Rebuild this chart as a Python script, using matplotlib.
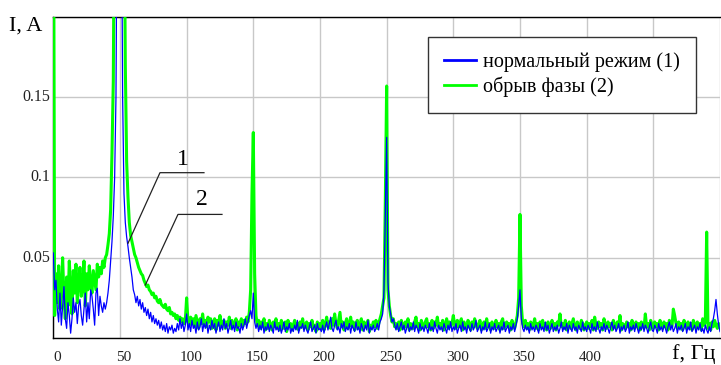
import numpy as np
import matplotlib
matplotlib.use("Agg")
import matplotlib.pyplot as plt
from matplotlib.transforms import ScaledTranslation

# ---------------- data (current amplitude, mA, 1 Hz step from 0 Hz) ----------------
blue_mA = [
    53, 30, 36, 18, 10, 28, 8, 20, 32, 12,
    6, 22, 14, 3, 12, 25, 16, 22, 9, 20,
    24, 14, 8, 18, 28, 10, 22, 12, 30, 26,
    18, 8, 28, 31, 14, 26, 20, 16, 22, 18,
    22, 28, 36, 48, 60, 76, 100, 150, 300, 300,
    300, 300, 150, 90, 72, 63, 57, 50, 44, 38,
    30, 27, 22, 26, 20, 24, 18, 22, 16, 19,
    14, 18, 12, 16, 10, 14, 9, 12, 8, 11,
    6, 10, 5, 8, 4, 9, 3, 7, 5, 8,
    3, 6, 4, 9, 5, 12, 6, 10, 4, 8,
    15, 5, 9, 4, 11, 6, 8, 3, 10, 5,
    7, 12, 4, 9, 6, 10, 3, 8, 5, 11,
    6, 9, 3, 7, 10, 4, 8, 5, 12, 6,
    9, 3, 7, 11, 5, 8, 4, 10, 6, 7,
    3, 9, 5, 8, 12, 6, 10, 14, 17, 12,
    28, 10, 6, 9, 4, 8, 5, 10, 3, 7,
    5, 9, 4, 8, 6, 3, 10, 5, 7, 4,
    8, 3, 6, 10, 4, 7, 5, 9, 3, 6,
    4, 8, 5, 11, 3, 7, 6, 9, 4, 8,
    5, 3, 7, 10, 4, 6, 8, 3, 9, 5,
    6, 4, 8, 3, 7, 10, 5, 9, 13, 6,
    4, 8, 11, 5, 7, 3, 9, 6, 10, 4,
    7, 5, 9, 3, 8, 6, 4, 10, 5, 7,
    3, 9, 6, 4, 8, 5, 11, 3, 7, 5,
    8, 4, 6, 9, 5, 10, 12, 15, 30, 76,
    125, 35, 20, 15, 10, 12, 8, 5, 9, 4,
    7, 10, 5, 8, 3, 6, 9, 4, 7, 5,
    10, 4, 8, 6, 3, 9, 5, 7, 4, 8,
    6, 3, 9, 5, 7, 4, 10, 6, 3, 8,
    5, 7, 4, 9, 6, 3, 8, 5, 10, 4,
    7, 5, 9, 3, 6, 8, 4, 10, 5, 7,
    3, 8, 6, 4, 9, 5, 7, 11, 4, 6,
    8, 3, 7, 5, 10, 4, 6, 9, 3, 7,
    5, 9, 4, 6, 8, 3, 7, 5, 10, 4,
    6, 8, 3, 7, 5, 9, 4, 8, 12, 20,
    30, 12, 6, 4, 8, 5, 7, 3, 9, 5,
    7, 4, 8, 6, 3, 9, 5, 7, 4, 10,
    5, 8, 3, 6, 9, 4, 7, 5, 8, 3,
    6, 10, 4, 7, 5, 9, 3, 8, 6, 4,
    9, 5, 7, 3, 8, 6, 4, 10, 5, 7,
    4, 8, 6, 3, 9, 5, 7, 4, 10, 6,
    3, 7, 5, 9, 4, 8, 6, 3, 7, 10,
    5, 8, 4, 6, 9, 3, 7, 5, 8, 4,
    6, 10, 3, 7, 5, 8, 4, 9, 6, 3,
    7, 5, 9, 4, 8, 6, 3, 7, 10, 5,
    4, 8, 6, 3, 9, 5, 7, 4, 8, 6,
    3, 7, 10, 5, 8, 4, 6, 9, 3, 7,
    5, 8, 4, 6, 9, 3, 7, 5, 10, 4,
    6, 8, 3, 7, 5, 9, 4, 6, 3, 8,
    5, 3, 7, 4, 9, 12, 17, 24, 15, 8,
    4,
]

green_mA = [
    350, 14, 40, 22, 45, 18, 30, 50, 25, 12,
    38, 20, 48, 30, 15, 42, 28, 46, 22, 35,
    44, 26, 32, 48, 20, 40, 30, 45, 34, 28,
    42, 36, 30, 46, 38, 44, 40, 48, 44, 50,
    52, 58, 65, 80, 115, 160, 300, 300, 300, 300,
    300, 300, 300, 300, 170, 110, 88, 72, 64, 60,
    56, 52, 50, 47, 44, 42, 40, 39, 36, 34,
    32, 33, 30, 29, 27, 28, 25, 26, 23, 22,
    24, 21, 20, 19, 21, 18, 17, 19, 15, 16,
    14, 15, 12, 14, 11, 13, 10, 12, 9, 11,
    25, 10, 8, 13, 9, 12, 7, 14, 10, 6,
    12, 9, 15, 8, 11, 7, 13, 10, 12, 6,
    9, 12, 5, 11, 8, 14, 7, 10, 11, 6,
    10, 8, 13, 6, 11, 9, 7, 12, 5, 10,
    8, 12, 7, 11, 9, 13, 10, 16, 30, 90,
    128, 40, 14, 8, 11, 6, 10, 7, 12, 5,
    9, 6, 11, 8, 5, 10, 7, 12, 6, 9,
    5, 11, 8, 6, 10, 4, 11, 7, 9, 5,
    8, 11, 6, 9, 5, 10, 7, 12, 6, 8,
    10, 5, 9, 7, 11, 6, 8, 4, 10, 7,
    9, 6, 11, 5, 8, 13, 7, 10, 6, 12,
    8, 15, 9, 6, 11, 16, 7, 10, 5, 9,
    12, 6, 8, 13, 7, 10, 5, 9, 11, 6,
    8, 12, 5, 10, 7, 9, 11, 4, 8, 6,
    10, 7, 11, 6, 9, 12, 15, 20, 25, 85,
    157, 30, 20, 14, 10, 12, 7, 9, 6, 10,
    5, 11, 8, 6, 10, 7, 12, 5, 9, 8,
    6, 10, 13, 7, 9, 5, 11, 8, 6, 10,
    12, 7, 9, 5, 11, 6, 10, 8, 13, 7,
    9, 6, 11, 5, 8, 12, 6, 10, 7, 9,
    14, 8, 6, 11, 7, 9, 12, 5, 10, 8,
    6, 11, 9, 5, 10, 7, 12, 8, 6, 9,
    11, 5, 8, 10, 6, 12, 7, 9, 5, 10,
    8, 6, 11, 7, 9, 5, 10, 12, 6, 8,
    10, 7, 9, 5, 11, 8, 6, 10, 14, 25,
    77, 20, 9, 7, 11, 6, 9, 5, 10, 7,
    8, 12, 6, 9, 5, 10, 7, 11, 6, 9,
    5, 10, 8, 6, 11, 7, 9, 5, 10, 8,
    15, 7, 9, 6, 11, 5, 8, 10, 6, 9,
    12, 7, 5, 10, 8, 6, 11, 9, 5, 8,
    10, 6, 9, 7, 11, 5, 13, 8, 6, 10,
    7, 9, 5, 12, 8, 6, 10, 7, 9, 5,
    11, 8, 6, 10, 7, 14, 5, 9, 8, 6,
    10, 7, 9, 5, 11, 8, 6, 10, 7, 9,
    5, 10, 8, 6, 15, 7, 9, 5, 11, 8,
    6, 10, 7, 9, 5, 11, 8, 6, 10, 7,
    9, 5, 11, 8, 7, 18, 14, 9, 6, 10,
    7, 9, 5, 11, 8, 6, 10, 7, 9, 5,
    11, 8, 6, 10, 7, 9, 5, 12, 8, 10,
    66, 6, 9, 5, 10, 7, 11, 8, 6, 9,
    7,
]

x_ticks = [0, 50, 100, 150, 200, 250, 300, 350, 400]
x_tick_labels = ["0", "50", "100", "150", "200", "250", "300", "350", "400"]
y_ticks = [0.05, 0.1, 0.15]
y_tick_labels = ["0.05", "0.1", "0.15"]
labels = ["нормальный режим (1)", "обрыв фазы (2)"]

# ---------------- figure ----------------
W, H = 721, 365
fig = plt.figure(figsize=(W / 100, H / 100), dpi=100)
ax = fig.add_axes([53.3 / W, 27 / H, 666.7 / W, 321 / H])

serif = ["Liberation Serif", "DejaVu Serif"]

f_blue = np.arange(len(blue_mA))
f_green = np.arange(len(green_mA))
ax.plot(f_green, np.array(green_mA) / 1000.0, color="#00FF00", lw=2.2,
        label=labels[1], zorder=3)
ax.plot(f_blue, np.array(blue_mA) / 1000.0, color="#0000FF", lw=0.9,
        label=labels[0], zorder=4)

ax.set_xlim(0, 500)
ax.set_ylim(0, 0.2)

# grid
ax.set_xticks(np.arange(0, 501, 50))
ax.set_yticks(np.arange(0, 0.2001, 0.05))
ax.grid(True, color="#C8C8C8", lw=1.0, zorder=0)
ax.set_axisbelow(True)
ax.tick_params(length=0, labelbottom=False, labelleft=False)

for s in ax.spines.values():
    s.set_color("#000000")
    s.set_linewidth(1.0)
ax.spines["right"].set_visible(False)

# tick labels as text (x labels sit just below the axis, near the figure bottom)
xlab_tr = ax.get_xaxis_transform() + ScaledTranslation(4 / 100, 0, fig.dpi_scale_trans)
for xv, lab in zip(x_ticks, x_tick_labels):
    ax.text(xv, -(364 - 338) / 321, lab, ha="center", va="bottom", fontsize=11,
            family=serif, transform=xlab_tr, color="#222222")
off_y = ScaledTranslation(-3 / 100, 0, fig.dpi_scale_trans)
for yv, lab in zip(y_ticks, y_tick_labels):
    ax.text(0, yv, lab, ha="right", va="center", fontsize=11.5,
            family=serif, color="#222222", transform=ax.transData + off_y)

fig.text(9 / W, 1 - 26 / H, "I, A", fontsize=16, family=serif,
         ha="left", va="center")
fig.text(694 / W, 1 / H, "f, Гц", fontsize=16, family=serif,
         ha="center", va="bottom")

# leader annotations
ax.plot([56, 80, 113], [0.059, 0.103, 0.103], color="#222222", lw=0.9, zorder=5)
ax.plot([69, 93.5, 126.5], [0.033, 0.077, 0.077], color="#222222", lw=0.9, zorder=5)
ax.text(97, 0.111, "1", fontsize=17, family=serif, ha="center", va="center", zorder=6)
ax.text(111.5, 0.086, "2", fontsize=17, family=serif, ha="center", va="center", zorder=6)

# legend
h, l = ax.get_legend_handles_labels()
leg = ax.legend(h[::-1], l[::-1], loc="upper left",
                bbox_to_anchor=(428 / W, 1 - 37 / H), bbox_transform=fig.transFigure,
                prop={"family": serif, "size": 14.5}, fancybox=False,
                edgecolor="#333333", framealpha=1.0, handlelength=1.6,
                handletextpad=0.35, borderpad=0.78, labelspacing=0.2,
                borderaxespad=0)
leg.get_frame().set_linewidth(1.0)
for line in leg.get_lines():
    line.set_linewidth(2.0)

fig.savefig("out.png", dpi=100)
